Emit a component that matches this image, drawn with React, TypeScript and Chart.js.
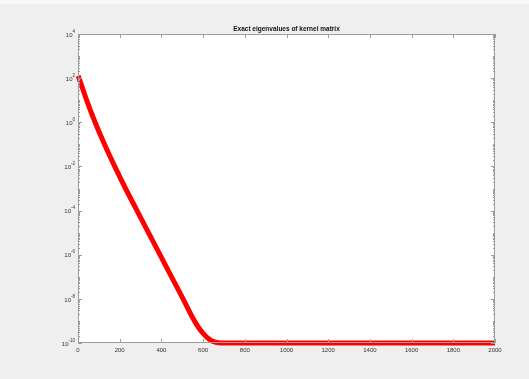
import React, { useEffect, useRef } from "react";
import { Chart, registerables } from "chart.js";

Chart.register(...registerables);

// Eigenvalue index and magnitude of the kernel matrix spectrum
const eigIndex = [1, 5, 40, 82, 127, 176, 228, 283, 393, 504, 550, 575, 600, 625, 650, 675, 700, 800, 900, 1000, 1100, 1200, 1300, 1400, 1500, 1600, 1700, 1800, 1900, 2000];
const eigValue = [1.26e2, 1.0e2, 1.1e1, 1.0, 1.0e-1, 1.0e-2, 1.0e-3, 1.0e-4, 1.0e-6, 1.0e-8, 1.4e-9, 5.6e-10, 2.75e-10, 1.6e-10, 1.15e-10, 1.02e-10, 1.0e-10, 1.0e-10, 1.0e-10, 1.0e-10, 1.0e-10, 1.0e-10, 1.0e-10, 1.0e-10, 1.0e-10, 1.0e-10, 1.0e-10, 1.0e-10, 1.0e-10, 1.0e-10];

const xTicks = [0, 200, 400, 600, 800, 1000, 1200, 1400, 1600, 1800, 2000];
const yExponents = [4, 2, 0, -2, -4, -6, -8, -10];
const titleText = "Exact eigenvalues of kernel matrix";

const FONT = '"Liberation Sans", Arial, Helvetica, sans-serif';
const AXIS_COLOR = "#9c9c9c";
const TEXT_COLOR = "#333333";

const matlabAxes = {
  id: "matlabAxes",
  beforeDraw(chart: any) {
    const { ctx, chartArea } = chart;
    const { left, top, right, bottom } = chartArea;
    ctx.save();
    ctx.fillStyle = "#f8f8f8";
    ctx.fillRect(0, 0, chart.width, chart.height);
    ctx.fillStyle = "#efefef";
    ctx.fillRect(0, 4, chart.width, chart.height - 4);
    ctx.fillStyle = "#ffffff";
    ctx.fillRect(left, top, right - left, bottom - top);
    ctx.restore();
  },
  afterDraw(chart: any) {
    const { ctx, chartArea } = chart;
    const { left, top, right, bottom } = chartArea;
    const xs = chart.scales.x;
    const ys = chart.scales.y;
    ctx.save();
    ctx.strokeStyle = AXIS_COLOR;
    ctx.lineWidth = 1;
    ctx.strokeRect(left + 0.5, top + 0.5, right - left - 1, bottom - top - 1);

    ctx.beginPath();
    // x ticks, inward on bottom and top
    for (const v of xTicks) {
      const px = Math.round(xs.getPixelForValue(v)) + 0.5;
      ctx.moveTo(px, bottom);
      ctx.lineTo(px, bottom - 4);
      ctx.moveTo(px, top);
      ctx.lineTo(px, top + 4);
    }
    // y ticks: major every second decade, minor at 1..9 of each decade
    for (let d = -10; d < 4; d++) {
      for (let k = 1; k <= 9; k++) {
        const v = k * Math.pow(10, d);
        const py = Math.round(ys.getPixelForValue(v)) + 0.5;
        const major = k === 1 && d % 2 === 0;
        const len = major ? 4 : 2;
        ctx.moveTo(left, py);
        ctx.lineTo(left + len, py);
        ctx.moveTo(right, py);
        ctx.lineTo(right - len, py);
      }
    }
    {
      const py = Math.round(ys.getPixelForValue(1e4)) + 0.5;
      ctx.moveTo(left, py);
      ctx.lineTo(left + 4, py);
      ctx.moveTo(right, py);
      ctx.lineTo(right - 4, py);
    }
    ctx.stroke();

    // y labels: 10 with raised exponent
    ctx.fillStyle = TEXT_COLOR;
    ctx.textBaseline = "middle";
    for (const e of yExponents) {
      const py = ys.getPixelForValue(Math.pow(10, e));
      const exp = String(e);
      ctx.font = `4.5px ${FONT}`;
      const ew = ctx.measureText(exp).width;
      const xr = left - 3;
      ctx.textAlign = "right";
      ctx.fillText(exp, xr, py - 2.5);
      ctx.font = `6px ${FONT}`;
      ctx.fillText("10", xr - ew, py + 1);
    }

    // title
    ctx.font = `bold 6.5px ${FONT}`;
    ctx.textAlign = "center";
    ctx.fillStyle = "#111111";
    ctx.fillText(titleText, (left + right) / 2, 29);
    ctx.restore();
  },
};

export default function App() {
  const canvasRef = useRef<HTMLCanvasElement | null>(null);

  useEffect(() => {
    if (!canvasRef.current) return;
    const chart = new Chart(canvasRef.current, {
      type: "line",
      data: {
        datasets: [
          {
            label: "eigenvalues",
            data: eigIndex.map((i, n) => ({ x: i, y: eigValue[n] })),
            borderColor: "#ff0000",
            backgroundColor: "#ff0000",
            borderWidth: 5,
            borderCapStyle: "butt",
            borderJoinStyle: "round",
            pointRadius: 0,
            cubicInterpolationMode: "monotone",
            clip: false as any,
          },
        ],
      },
      options: {
        responsive: false,
        animation: false,
        events: [],
        layout: { padding: { left: 78, right: 34, top: 34, bottom: 16 } },
        plugins: {
          legend: { display: false },
          title: { display: false },
          tooltip: { enabled: false },
        },
        scales: {
          x: {
            type: "linear",
            min: 0,
            max: 2000,
            afterBuildTicks: (s: any) => {
              s.ticks = xTicks.map((v) => ({ value: v }));
            },
            afterFit: (s: any) => {
              s.height = 20;
            },
            grid: { display: false, drawTicks: false },
            border: { display: false },
            ticks: {
              padding: 4,
              maxRotation: 0,
              autoSkip: false,
              color: TEXT_COLOR,
              font: { family: FONT, size: 6 },
              callback: (v: any) => String(v),
            },
          },
          y: {
            type: "logarithmic",
            display: false,
            min: 1e-10,
            max: 1e4,
          },
        },
      },
      plugins: [matlabAxes],
    });
    return () => chart.destroy();
  }, []);

  return (
    <div style={{ position: "absolute", left: 0, top: 0, width: 529, height: 379 }}>
      <canvas ref={canvasRef} width={529} height={379} style={{ display: "block" }} />
    </div>
  );
}
